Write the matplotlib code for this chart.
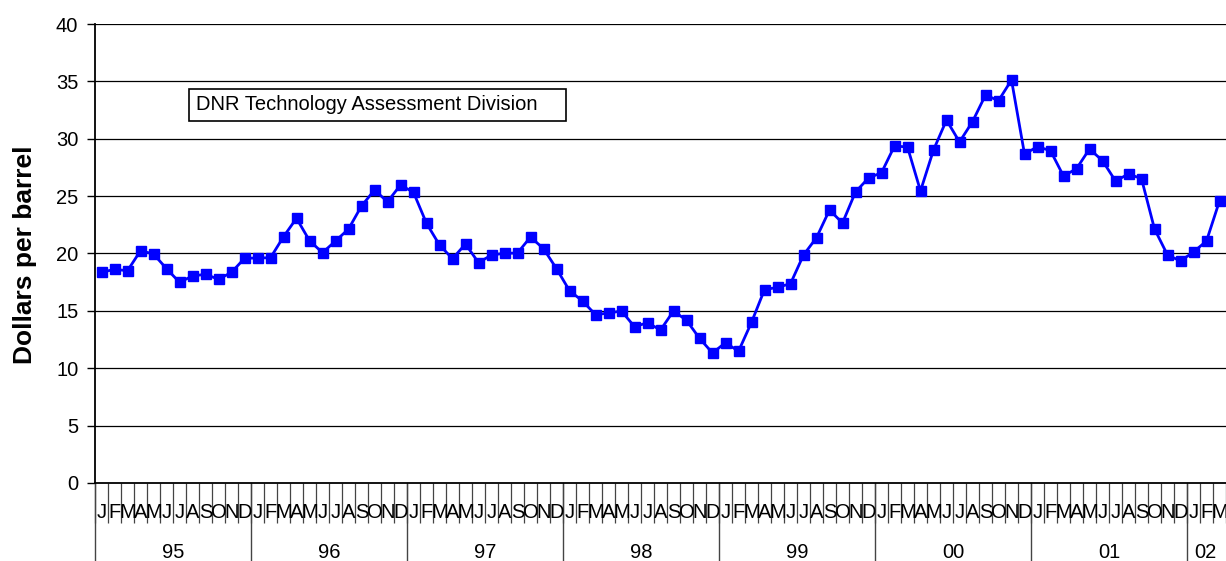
import matplotlib
matplotlib.use("Agg")
import matplotlib.pyplot as plt
from matplotlib.patches import Rectangle
import matplotlib.transforms as mtransforms

plt.rcParams['font.family'] = ['Liberation Sans', 'DejaVu Sans']

# ---- data (monthly, Jan 1995 .. Mar 2002), dollars per barrel ----
prices_1995 = [18.36, 18.62, 18.50, 20.24, 19.96, 18.68, 17.49, 18.04, 18.19, 17.75, 18.36, 19.58]
prices_1996 = [19.61, 19.63, 21.46, 23.07, 21.12, 20.07, 21.09, 22.13, 24.14, 25.53, 24.51, 25.97]
prices_1997 = [25.33, 22.63, 20.74, 19.55, 20.83, 19.20, 19.87, 20.02, 20.04, 21.44, 20.42, 18.68]
prices_1998 = [16.76, 15.86, 14.67, 14.81, 14.99, 13.62, 13.97, 13.33, 14.99, 14.18, 12.61, 11.33]
prices_1999 = [12.23, 11.48, 14.00, 16.85, 17.05, 17.37, 19.87, 21.38, 23.79, 22.66, 25.36, 26.58]
prices_2000 = [27.04, 29.37, 29.28, 25.45, 29.02, 31.63, 29.72, 31.49, 33.81, 33.32, 35.12, 28.67]
prices_2001 = [29.31, 28.96, 26.75, 27.39, 29.11, 28.09, 26.32, 26.93, 26.52, 22.14, 19.87, 19.35]
prices_2002 = [20.13, 21.09, 24.58]

month_letters = ["J", "F", "M", "A", "M", "J", "J", "A", "S", "O", "N", "D"]
year_labels = ["95", "96", "97", "98", "99", "00", "01", "02"]
y_ticks = [0, 5, 10, 15, 20, 25, 30, 35, 40]
y_label = "Dollars per barrel"
note_text = "DNR Technology Assessment Division"

prices = (prices_1995 + prices_1996 + prices_1997 + prices_1998 +
          prices_1999 + prices_2000 + prices_2001 + prices_2002)
n = len(prices)
xpos = [i + 0.5 for i in range(n)]

W, H = 1226, 561
fig = plt.figure(figsize=(W / 100, H / 100), dpi=100)
left_px, right_px, top_px, bot_px = 95, 1226, 24, 483
ax = fig.add_axes([left_px / W, 1 - bot_px / H, (right_px - left_px) / W, (bot_px - top_px) / H])

month_w = 157 / 12.0  # px per month
xmax = (right_px - left_px) / month_w
ax.set_xlim(0, xmax)
ax.set_ylim(0, 40)

# grid
for v in y_ticks[1:]:
    ax.axhline(v, color='black', lw=0.9, zorder=1)

ax.plot(xpos, prices, color='#0000FF', lw=2.0, marker='s', markersize=7.5,
        markeredgecolor='#0000FF', zorder=3, clip_on=True)

for s in ['top', 'right']:
    ax.spines[s].set_visible(False)
ax.spines['left'].set_linewidth(1.3)
ax.spines['bottom'].set_linewidth(1.3)

ax.set_yticks(y_ticks)
ax.set_yticklabels([str(v) for v in y_ticks], fontsize=14.5)
ax.tick_params(axis='y', direction='out', length=6, width=1, pad=6)

# x: month boundary ticks
ax.set_xticks(list(range(0, n + 1)))
ax.set_xticklabels([])
ax.tick_params(axis='x', which='major', direction='out', length=29, width=0.9, color='#444444')

# month letters
trans = mtransforms.blended_transform_factory(ax.transData, fig.transFigure)
for i in range(n):
    ax.text(i + 0.5, 1 - 512 / H, month_letters[i % 12], transform=trans,
            ha='center', va='center', fontsize=14.5, clip_on=False)

# year separators and labels
for k, yl in enumerate(year_labels):
    x0 = k * 12
    x1 = x0 + 12
    xc = (x0 + x1) / 2 if x1 <= xmax else xmax - 1.0
    ax.plot([x0, x0], [1 - bot_px / H, 0], transform=trans, color='#444444',
            lw=1.0, clip_on=False)
    ax.text(xc, 1 - 552 / H, yl, transform=trans, ha='center', va='center',
            fontsize=14.5, clip_on=False)

fig.text(25 / W, 1 - 255 / H, y_label, rotation=90, ha='center', va='center',
         fontsize=19, fontweight='bold')

# note box
bx0, by0, bx1, by1 = 189, 89, 566, 121
fig.patches.append(Rectangle((bx0 / W, 1 - by1 / H), (bx1 - bx0) / W, (by1 - by0) / H,
                             transform=fig.transFigure, fill=True, facecolor='white',
                             edgecolor='black', lw=1.2, zorder=5))
fig.text(196 / W, 1 - 105 / H, note_text, ha='left', va='center', fontsize=14.5, zorder=6)

fig.savefig("out.png", dpi=100)
